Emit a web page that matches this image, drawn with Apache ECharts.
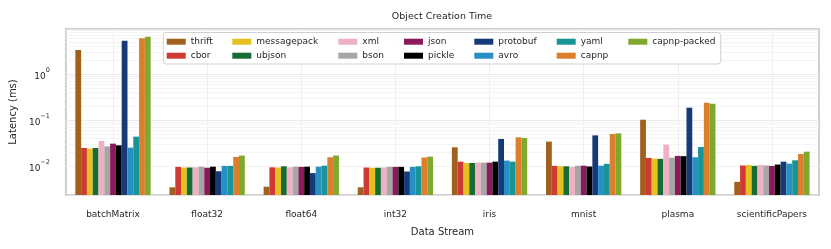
<!DOCTYPE html>
<html><head><meta charset="utf-8">
<script src="https://cdn.jsdelivr.net/npm/echarts@6/dist/echarts.min.js"></script>
<style>html,body{margin:0;padding:0;background:#fff}#c{width:831px;height:249px}</style>
</head><body><div id="c"></div>
<script>
// ---- data ----
const categories = ['batchMatrix','float32','float64','int32','iris','mnist','plasma','scientificPapers'];
const thrift      = [3.36,  0.0035, 0.0036, 0.0035, 0.0258, 0.0343, 0.1025, 0.0046];
const cbor        = [0.025, 0.0097, 0.0095, 0.0094, 0.0126, 0.0102, 0.0152, 0.0104];
const messagepack = [0.0242,0.0094, 0.0094, 0.0093, 0.0118, 0.0100, 0.0147, 0.0107];
const ubjson      = [0.025, 0.0094, 0.0100, 0.0093, 0.0118, 0.0100, 0.0145, 0.0102];
const xml         = [0.0355,0.0095, 0.0095, 0.0094, 0.0120, 0.0097, 0.0295, 0.0107];
const bson        = [0.0271,0.0098, 0.0098, 0.0097, 0.0120, 0.0103, 0.0154, 0.0104];
const json        = [0.031, 0.0093, 0.0097, 0.0097, 0.0120, 0.0103, 0.0168, 0.0102];
const pickle      = [0.0285,0.0098, 0.0098, 0.0097, 0.0126, 0.0099, 0.0166, 0.0109];
const protobuf    = [5.33,  0.0078, 0.0071, 0.0077, 0.0392, 0.0469, 0.187,  0.0126];
const avro        = [0.0254,0.0102, 0.0098, 0.0097, 0.0133, 0.0103, 0.0157, 0.0114];
const yaml        = [0.044, 0.0102, 0.0103, 0.0100, 0.0126, 0.0113, 0.0263, 0.0135];
const capnp       = [6.0,   0.0160, 0.0157, 0.0155, 0.0425, 0.0502, 0.239,  0.0185];
const capnpPacked = [6.5,   0.0171, 0.0171, 0.0162, 0.0411, 0.0518, 0.2277, 0.0208];

const seriesNames = ['thrift','cbor','messagepack','ubjson','xml','bson','json','pickle','protobuf','avro','yaml','capnp','capnp-packed'];
const seriesData  = [thrift,cbor,messagepack,ubjson,xml,bson,json,pickle,protobuf,avro,yaml,capnp,capnpPacked];
const colors = ['#a0601e','#d03a34','#e4c023','#176c36','#eeb0c2','#a6a6a6','#8b1a5a','#000000','#163a78','#2690c4','#189497','#dc7f2d','#7fa82d'];

const yMin = 0.00238, yMax = 9.56;
const minorTicks = [0.003,0.004,0.005,0.006,0.007,0.008,0.009,
                    0.02,0.03,0.04,0.05,0.06,0.07,0.08,0.09,
                    0.2,0.3,0.4,0.5,0.6,0.7,0.8,0.9,
                    2,3,4,5,6,7,8,9];

// legend columns (matplotlib column-major, 7 columns x 2 rows)
const legendCols = [['thrift','cbor'],['messagepack','ubjson'],['xml','bson'],['json','pickle'],
                    ['protobuf','avro'],['yaml','capnp'],['capnp-packed']];

// ---- layout constants ----
const FONT = 'DejaVu Sans';
const TXT = '#262626';
const legendColLeft = [166.7, 232.3, 338.3, 404, 474.3, 556.7, 628.3];
const legendBox = {left:163.3, top:32.5, right:720.7, bottom:64};
const legendItemH = 12, legendRowGap = 2, legendTop = 35.7;

// measure widest label of first column to size the frame
const mctx = document.createElement('canvas').getContext('2d');
mctx.font = '9px "' + FONT + '"';
const col0W = 19 + 5 + Math.max.apply(null, legendCols[0].map(n=>mctx.measureText(n).width));

const chart = echarts.init(document.getElementById('c'), null, {renderer:'canvas'});

const series = seriesNames.map((n,i)=>({
  name:n, type:'bar', data:seriesData[i], barGap:'0%', barCategoryGap:'20%',
  itemStyle:{color:colors[i]}, z:2
}));
series.push({
  name:'_minor', type:'line', data:[], silent:true,
  markLine:{silent:true, symbol:'none', z:1, label:{show:false},
    lineStyle:{color:'#f1f1f1', width:0.8, type:'solid'},
    data: minorTicks.map(v=>({yAxis:v}))}
});

const legends = legendCols.map((col,i)=>{
  const l = {
    orient:'vertical', icon:'rect', itemWidth:19, itemHeight:6, itemGap:legendRowGap,
    selectedMode:false, data:col,
    textStyle:{fontFamily:FONT, fontSize:9, color:TXT, lineHeight:legendItemH},
    left:legendColLeft[i], top:legendTop, padding:0, z:5
  };
  if (i === 0) {
    const pl = legendColLeft[0] - legendBox.left;
    const pt = legendTop - legendBox.top;
    const pb = legendBox.bottom - (legendTop + 2*legendItemH + legendRowGap);
    const pr = legendBox.right - legendBox.left - pl - col0W;
    Object.assign(l, {left:legendBox.left, top:legendBox.top, padding:[pt, pr, pb, pl],
      backgroundColor:'rgba(255,255,255,0.85)', borderColor:'#d0d0d0', borderWidth:1, borderRadius:3, z:4});
  }
  return l;
});

chart.setOption({
  animation:false,
  backgroundColor:'#fff',
  color:colors,
  title:{text:'Object Creation Time', left:442, top:12, textAlign:'center',
    textStyle:{fontFamily:FONT, fontSize:9.5, fontWeight:'normal', color:TXT}, padding:0},
  legend:legends,
  grid:{left:65, right:12, top:29, bottom:54, show:true, borderColor:'#cfcfcf', borderWidth:2, backgroundColor:'transparent'},
  xAxis:{type:'category', data:categories,
    name:'Data Stream', nameLocation:'middle', nameGap:32,
    nameTextStyle:{fontFamily:FONT, fontSize:10, color:TXT},
    axisLine:{show:false}, axisTick:{show:false},
    axisLabel:{fontFamily:FONT, fontSize:9, color:TXT, margin:15, interval:0},
    splitLine:{show:true, alignWithLabel:true, lineStyle:{color:'#ebebeb', width:0.8}}
  },
  yAxis:{type:'log', logBase:10, min:yMin, max:yMax, startValue:yMin,
    name:'Latency (ms)', nameLocation:'middle', nameGap:41, nameRotate:90,
    nameTextStyle:{fontFamily:FONT, fontSize:10, color:TXT},
    axisLine:{show:false}, axisTick:{show:false},
    axisLabel:{showMinLabel:false, showMaxLabel:false, margin:16, color:TXT, fontFamily:FONT,
      formatter:function(v){
        const e = Math.log10(v); const r = Math.round(e);
        if (Math.abs(e-r) > 1e-6) return '';
        const s = r < 0 ? '\u2212' + (-r) : String(r);
        return '{b|10}{s|' + s + '}';
      },
      rich:{b:{fontSize:9, fontFamily:FONT, color:TXT, lineHeight:14, verticalAlign:'bottom'},
            s:{fontSize:6.5, fontFamily:FONT, color:TXT, verticalAlign:'top'}}
    },
    splitLine:{show:true, lineStyle:{color:'#e6e6e6', width:0.8}},
    minorSplitLine:{show:false}
  },
  series:series
});
</script></body></html>
